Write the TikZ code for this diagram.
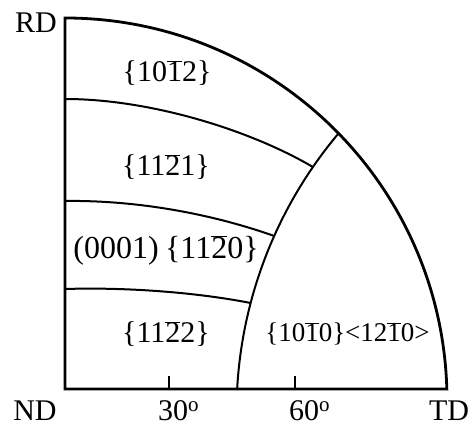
\documentclass[tikz,border=0pt]{standalone}
\usepackage{fontspec}
\setmainfont{Liberation Serif}
\newcommand\ob[1]{$\overline{\mbox{#1}}$}
\begin{document}
\begin{tikzpicture}[x=1pt,y=1pt]
\tikzset{
  frame/.style={line width=2.8pt, line join=miter},
  curve/.style={line width=2pt},
  lab/.style={font=\fontsize{30}{36}\selectfont, anchor=base, inner sep=0pt},
  big/.style={font=\fontsize{32}{38}\selectfont, anchor=base, inner sep=0pt},
  small/.style={font=\fontsize{27}{32}\selectfont, anchor=base, inner sep=0pt}
}
\useasboundingbox (0,0) rectangle (473,427);
% frame: axes and outer arc
\coordinate (O) at (65,38);
\coordinate (R) at (65,409);
\draw[frame] (O) -- (R) arc[start angle=90, end angle=1.65, radius=382] coordinate (T) -- cycle;
% inner boundary arc
\coordinate (A) at (237.15,38.03);
\draw[curve] (A) arc[start angle=176.86, end angle=139.85, radius=433.2] coordinate (J);
% region boundaries
\coordinate (L1) at (65,328); \coordinate (E1) at (312.9,260);
\coordinate (L2) at (65,226); \coordinate (E2) at (274.2,191);
\coordinate (L3) at (65,138); \coordinate (E3) at (250.6,124);
\draw[curve] (L1) .. controls (150,328) and (250,297) .. (E1);
\draw[curve] (L2) .. controls (140,227) and (215,212) .. (E2);
\draw[curve] (L3) .. controls (130,140) and (200,134) .. (E3);
% ticks
\coordinate (k1) at (169,38); \coordinate (k1t) at (169,51);
\coordinate (k2) at (295,38); \coordinate (k2t) at (295,51);
\draw[curve] (k1) -- (k1t);
\draw[curve] (k2) -- (k2t);
% labels
\node[lab] (rd) at (36,394) {RD};
\node[lab] (nd) at (35,6) {ND};
\node[lab] (t30) at (178.5,6) {30\textsuperscript{o}};
\node[lab] (t60) at (309.5,6) {60\textsuperscript{o}};
\node[lab] (td) at (449,6) {TD};
\node[lab] (r1) at (167,345) {\{10\ob{1}2\}};
\node[lab] (r2) at (166,251) {\{11\ob{2}1\}};
\node[big] (r3) at (166,168) {(0001)\hspace{0.2em}\{11\ob{2}0\}};
\node[lab] (r4) at (166,84) {\{11\ob{2}2\}};
\node[small] (r5) at (347.5,85) {\{10\ob{1}0\}<12\ob{1}0>};
\end{tikzpicture}
\end{document}
